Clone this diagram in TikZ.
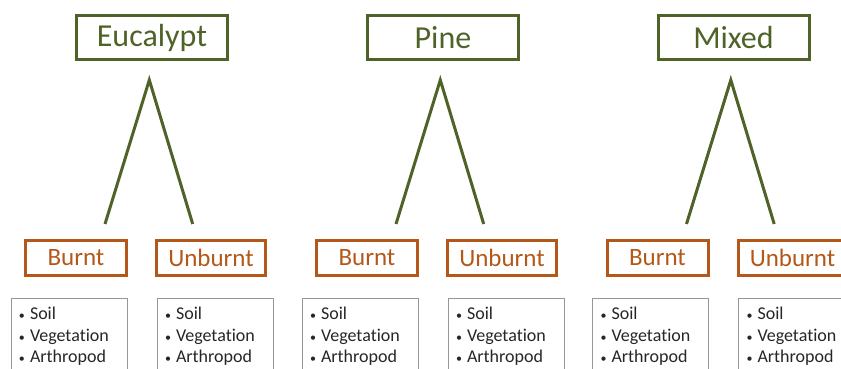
\documentclass[tikz,border=0pt]{standalone}
\usepackage{fontspec}
\setmainfont[Ligatures=NoCommon]{Carlito}
\definecolor{leafgreen}{RGB}{79,98,40}
\definecolor{fireorange}{RGB}{180,88,25}
\definecolor{listgray}{RGB}{150,150,150}
\newcommand{\itm}[1]{\makebox[11pt][l]{\fontsize{12}{12}\selectfont •}#1}
\tikzset{
 forest/.style={draw=leafgreen,line width=3pt,text=leafgreen,font=\fontsize{32}{32}\selectfont,minimum width=151pt,minimum height=44pt,inner sep=0pt},
 burn/.style={draw=fireorange,line width=3pt,text=fireorange,font=\fontsize{25}{25}\selectfont,minimum height=35pt,inner sep=0pt},
 sample/.style={draw=listgray,line width=1pt,anchor=north west,text width=100pt,align=left,inner xsep=8pt,inner ysep=9.5pt,text height=12pt,text depth=70pt,font=\fontsize{18}{21.5}\selectfont,text=black!85},
 branch/.style={draw=leafgreen,line width=3pt}
}
\begin{document}
\begin{tikzpicture}[x=1pt,y=-1pt]
 \useasboundingbox (0,0) rectangle (841,369);
 \clip (0,0) rectangle (841,369);
 \foreach \g/\name [count=\i] in {0/Eucalypt,291/Pine,581.5/Mixed}{
  \begin{scope}[xshift=\g pt]
   \node[forest] (top\i) at (152,37.5) {\name}; %forest type
   \node[burn,minimum width=101pt] (burnt\i) at (76,258) {Burnt};
   \node[burn,minimum width=109pt] (unburnt\i) at (211,258) {Unburnt};
   \node[sample] (listb\i) at (10.5,297.5) {\itm{Soil}\\\itm{Vegetation}\\\itm{Arthropod}};
   \node[sample] (listu\i) at (156.5,297.5) {\itm{Soil}\\\itm{Vegetation}\\\itm{Arthropod}};
   \coordinate (apex\i) at (149.3,80); %top of the branch
   \coordinate (footb\i) at (105,224);
   \coordinate (footu\i) at (192.7,224);
   \draw[branch] (footb\i) -- (apex\i) -- (footu\i);
  \end{scope}
 }
\end{tikzpicture}
\end{document}
